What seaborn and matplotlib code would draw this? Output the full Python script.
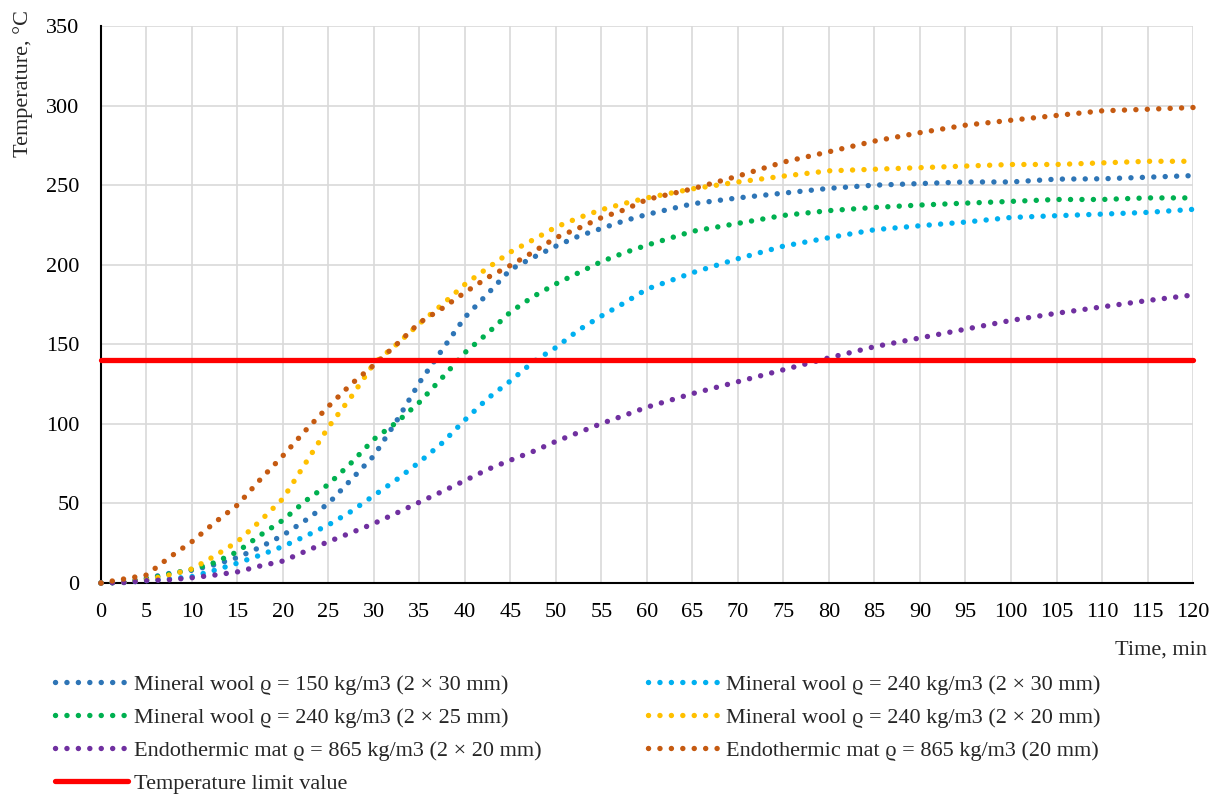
import matplotlib
matplotlib.use("Agg")
import pandas as pd
import matplotlib.pyplot as plt
import seaborn as sns

# time axis, minutes
time_min = [0, 2.5, 5, 7.5, 10, 12.5, 15, 17.5, 20, 22.5, 25, 27.5, 30, 32.5, 35, 37.5,
            40, 42.5, 45, 47.5, 50, 52.5, 55, 57.5, 60, 65, 70, 75, 80, 85, 90, 95,
            100, 105, 110, 115, 120]

# temperatures, deg C
mw150_2x30 = [0, 0.5, 3, 6, 8, 11.5, 16, 22.5, 30, 39.5, 50, 65, 80, 102, 126, 146.6,
              167, 181.8, 197, 204.6, 211.7, 218, 222.8, 227.6, 231.6, 238.3, 242, 245, 248, 250, 251, 252,
              252, 253.8, 254, 255, 256]
mw240_2x30 = [0, 0.3, 1.5, 2.5, 4, 8, 12.5, 17.5, 23, 29.5, 36.5, 45, 55, 65, 76, 88,
              102.5, 116, 127, 139, 148, 159, 167.8, 176, 184.7, 195, 203.8, 211.7, 217, 222, 224.5, 226.8,
              229.7, 230.8, 231.8, 232.9, 234.8]
mw240_2x25 = [0, 0.5, 2.5, 5.6, 8.6, 12.8, 19.7, 30, 39.5, 51.7, 62, 75.5, 90.4, 101, 113.6, 129,
              144.8, 157, 170.3, 180, 188, 195, 202, 207.5, 212.3, 221, 226, 231, 234, 236, 237.5, 238.7,
              239.8, 241, 241, 242, 242]
mw240_2x20 = [0, 0.5, 2, 5, 8.8, 17, 26, 39, 53, 75.5, 98, 117, 138, 150, 163, 175,
              187.7, 198, 208, 215.7, 223.7, 229.5, 234.6, 238.5, 242, 247.7, 252, 255.7, 259, 260, 261, 262,
              263, 263, 264, 265, 265]
endo_2x20 = [0, 0.3, 1.5, 2, 3.3, 5, 7, 10.7, 13.8, 20, 26, 31.6, 37.4, 44, 50.8, 57.5,
             64.4, 71.4, 77.2, 82.7, 89, 94.6, 100.2, 105.3, 110.5, 119, 126.5, 134, 141.5, 148.5, 154, 159.5,
             165, 169.5, 173.5, 177.5, 181]
endo_20 = [0, 2.5, 5, 16, 26, 38, 49, 65, 80, 96, 111, 125, 137, 150, 163.6, 172.6,
           182.6, 192, 199.6, 208, 217, 223, 229.6, 234.5, 241, 247.7, 255.7, 264.5, 271, 277.7, 283, 287.7,
           290.8, 293.8, 296.7, 297.7, 298.8]
limit_value = 140

series_names = ["Mineral wool \u03f1 = 150 kg/m3 (2 \u00d7 30 mm)",
                "Mineral wool \u03f1 = 240 kg/m3 (2 \u00d7 30 mm)",
                "Mineral wool \u03f1 = 240 kg/m3 (2 \u00d7 25 mm)",
                "Mineral wool \u03f1 = 240 kg/m3 (2 \u00d7 20 mm)",
                "Endothermic mat \u03f1 = 865 kg/m3 (2 \u00d7 20 mm)",
                "Endothermic mat \u03f1 = 865 kg/m3 (20 mm)"]
series_values = [mw150_2x30, mw240_2x30, mw240_2x25, mw240_2x20, endo_2x20, endo_20]
series_colors = ["#2E75B6", "#00B0F0", "#00B050", "#FFC000", "#7030A0", "#C55A11"]
limit_name = "Temperature limit value"

# long table for seaborn
df = pd.DataFrame({
    "time": time_min * len(series_names),
    "temp": sum(series_values, []),
    "series": [n for n in series_names for _ in time_min],
})
limit_df = pd.DataFrame({"time": [time_min[0], time_min[-1]], "temp": [limit_value, limit_value]})

sns.set_style("whitegrid", {"grid.color": "#d9d9d9", "axes.edgecolor": "black"})
plt.rcParams["font.family"] = ["Liberation Serif", "DejaVu Serif"]
plt.rcParams["font.size"] = 16

fig = plt.figure(figsize=(12.15, 7.96), dpi=100)
ax = fig.add_axes([0.0831, 0.2676, 0.8988, 0.6997])

lines = {}
for name, col in zip(series_names, series_colors):
    sns.lineplot(data=df[df["series"] == name], x="time", y="temp", ax=ax, color=col,
                 linewidth=3.9, linestyle=(0, (0.01, 2.1)), dash_capstyle="round",
                 estimator=None, legend=False, clip_on=False, zorder=3)
    lines[name] = ax.lines[-1]

sns.lineplot(data=limit_df, x="time", y="temp", ax=ax, color="#FF0000", linewidth=3.8,
             solid_capstyle="round", estimator=None, legend=False, clip_on=False, zorder=4)
lines[limit_name] = ax.lines[-1]

ax.set_xlim(0, 120)
ax.set_ylim(0, 350)
ax.set_xticks(range(0, 121, 5))
ax.set_yticks(range(0, 351, 50))
ax.grid(True, color="#d9d9d9", linewidth=1.2)
ax.set_axisbelow(True)
for s in ["top", "right"]:
    ax.spines[s].set_visible(False)
for s in ["left", "bottom"]:
    ax.spines[s].set_color("black")
    ax.spines[s].set_linewidth(1.5)
ax.tick_params(axis="both", direction="inout", length=11, width=1.5, color="black",
               labelsize=16, labelcolor="black")
ax.tick_params(axis="x", pad=9)
ax.tick_params(axis="y", pad=10)
ax.set_xlabel("")
ax.set_ylabel("")

fig.text(0.019, 0.988, "Temperature, \u00b0C", rotation=90, ha="center", va="top", fontsize=16)
fig.text(0.9935, 0.183, "Time, min", ha="right", va="center", fontsize=16)

# legend in two columns under the plot
col1 = [series_names[0], series_names[2], series_names[4], limit_name]
col2 = [series_names[1], series_names[3], series_names[5]]
leg_kw = dict(loc="upper left", frameon=False, fontsize=16, handlelength=3.3,
              handletextpad=0.25, labelspacing=0.56, borderpad=0, borderaxespad=0)
fig.legend([lines[n] for n in col1], col1, bbox_to_anchor=(0.045, 0.153), **leg_kw)
fig.legend([lines[n] for n in col2], col2, bbox_to_anchor=(0.533, 0.153), **leg_kw)

fig.savefig("out.png", dpi=100)
